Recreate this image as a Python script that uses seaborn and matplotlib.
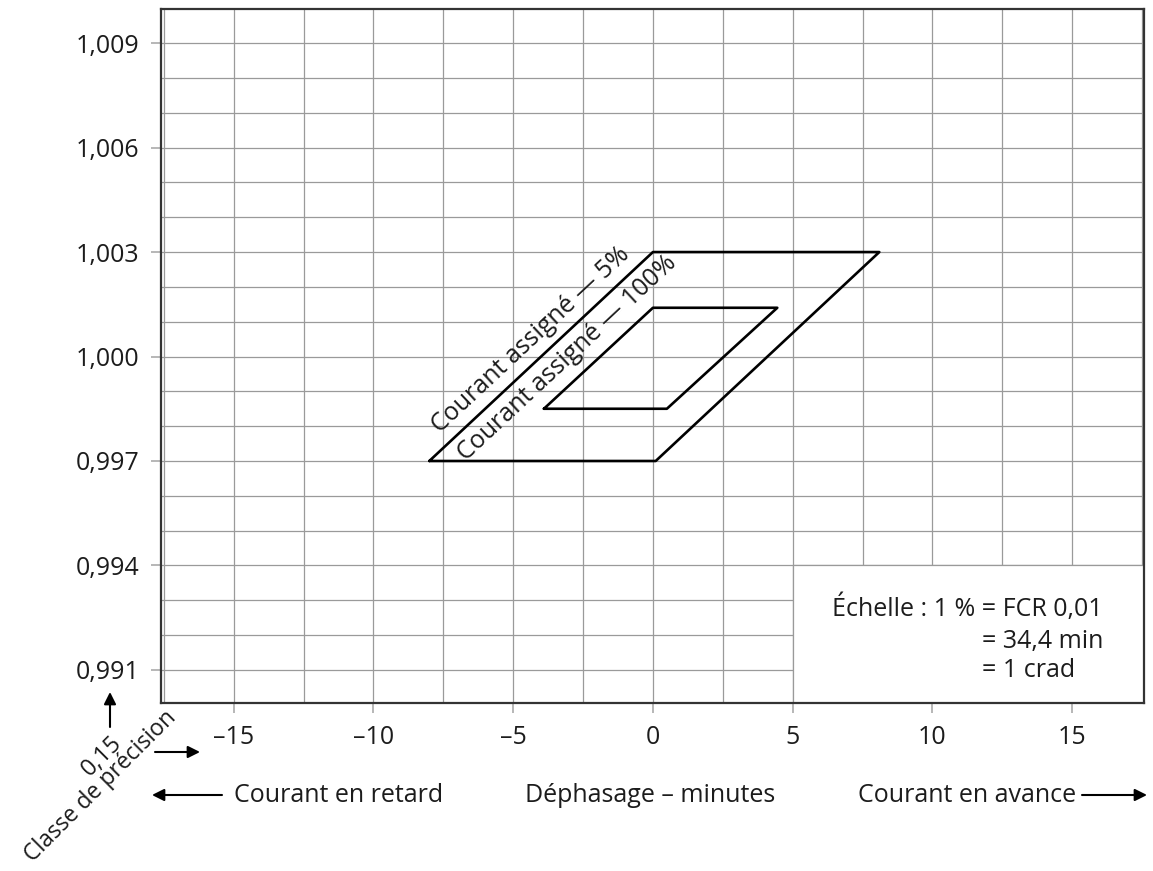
import matplotlib
matplotlib.use("Agg")
import matplotlib.pyplot as plt
import seaborn as sns
import pandas as pd
from matplotlib.ticker import MultipleLocator, FixedLocator, FixedFormatter
from matplotlib.patches import Rectangle

# tolerance boxes (phase displacement in minutes, ratio factor)
outer_x = [-8.0, 0.1, 8.1, 0.0, -8.0]
outer_y = [0.997, 0.997, 1.003, 1.003, 0.997]
inner_x = [-3.9, 0.5, 4.45, 0.0, -3.9]
inner_y = [0.9985, 0.9985, 1.0014, 1.0014, 0.9985]

x_ticks = [-15, -10, -5, 0, 5, 10, 15]
x_tick_labels = ["–15", "–10", "–5", "0", "5", "10", "15"]
y_ticks = [0.991, 0.994, 0.997, 1.000, 1.003, 1.006, 1.009]
y_tick_labels = ["0,991", "0,994", "0,997", "1,000", "1,003", "1,006", "1,009"]

W, H = 1153, 871
FS = 18
INK = "#1c1c1c"

sns.set_theme(style="white")
plt.rcParams['font.family'] = ['Open Sans', 'DejaVu Sans']


def fp(x, y):
    # image pixel -> figure fraction
    return (x / W, 1 - y / H)


df = pd.concat([
    pd.DataFrame({"x": outer_x, "y": outer_y, "shape": "5%"}),
    pd.DataFrame({"x": inner_x, "y": inner_y, "shape": "100%"}),
], ignore_index=True)

fig = plt.figure(figsize=(W / 100, H / 100), dpi=100)
ax = fig.add_axes([161 / W, (H - 703) / H, (1144 - 161) / W, (703 - 9) / H])

sns.lineplot(data=df, x="x", y="y", units="shape", estimator=None, sort=False,
             color="black", lw=1.9, ax=ax)

ax.set_xlim(-17.6, 17.57)
ax.set_ylim(0.99005, 1.00998)

ax.xaxis.set_major_locator(FixedLocator(x_ticks))
ax.xaxis.set_major_formatter(FixedFormatter(x_tick_labels))
ax.yaxis.set_major_locator(FixedLocator(y_ticks))
ax.yaxis.set_major_formatter(FixedFormatter(y_tick_labels))
ax.xaxis.set_minor_locator(MultipleLocator(2.5))
ax.yaxis.set_minor_locator(MultipleLocator(0.001))
ax.grid(which="both", color="#9a9a9a", lw=0.9)
ax.set_axisbelow(True)
ax.tick_params(which="major", length=7.5, width=1.2, color="#aaaaaa",
               labelsize=FS, labelcolor=INK, pad=8, bottom=True, left=True)
ax.tick_params(which="minor", length=0)
ax.set_xlabel("")
ax.set_ylabel("")
for s in ax.spines.values():
    s.set_color("#333333")
    s.set_linewidth(1.6)

# scale box, hides the grid in the lower right corner
ax.add_patch(Rectangle((5, 0.99005), 17.57 - 5, 0.994 - 0.99005,
                       facecolor="white", edgecolor="#9a9a9a", lw=0.9, zorder=1))
ax.text(6.4, 0.99278, "Échelle : 1 % = FCR 0,01", fontsize=FS, color=INK, va="center")
ax.text(11.77, 0.99183, "= 34,4 min", fontsize=FS, color=INK, va="center")
ax.text(11.77, 0.99097, "= 1 crad", fontsize=FS, color=INK, va="center")

# labels along the slanted sides
ax.text(-4.36, 1.00047, "Courant assigné — 5%", fontsize=FS, color=INK, rotation=43,
        rotation_mode="anchor", ha="center", va="center")
ax.text(-3.06, 0.99994, "Courant assigné — 100%", fontsize=FS, color=INK, rotation=43,
        rotation_mode="anchor", ha="center", va="center")

# annotations below the axes
fig.text(*fp(102, 756), "0,15", fontsize=17, color=INK, rotation=45,
         rotation_mode="anchor", ha="center", va="center")
fig.text(*fp(101, 786), "Classe de précision", fontsize=16.5, color=INK, rotation=45,
         rotation_mode="anchor", ha="center", va="center")
fig.text(*fp(234, 795), "Courant en retard", fontsize=FS, color=INK, ha="left", va="center")
fig.text(*fp(650, 795), "Déphasage – minutes", fontsize=FS, color=INK, ha="center", va="center")
fig.text(*fp(1076, 795), "Courant en avance", fontsize=FS, color=INK, ha="right", va="center")

arrow = dict(arrowstyle="-|>", color="black", lw=1.5, mutation_scale=18, shrinkA=0, shrinkB=0)
for start, end in [((110, 727), (110, 692)), ((155, 752), (200, 752)),
                   ((222, 795), (152, 795)), ((1082, 795), (1147, 795))]:
    ax.annotate("", xy=fp(*end), xytext=fp(*start), xycoords="figure fraction",
                textcoords="figure fraction", arrowprops=arrow, annotation_clip=False)

fig.savefig("out.png", dpi=100)
